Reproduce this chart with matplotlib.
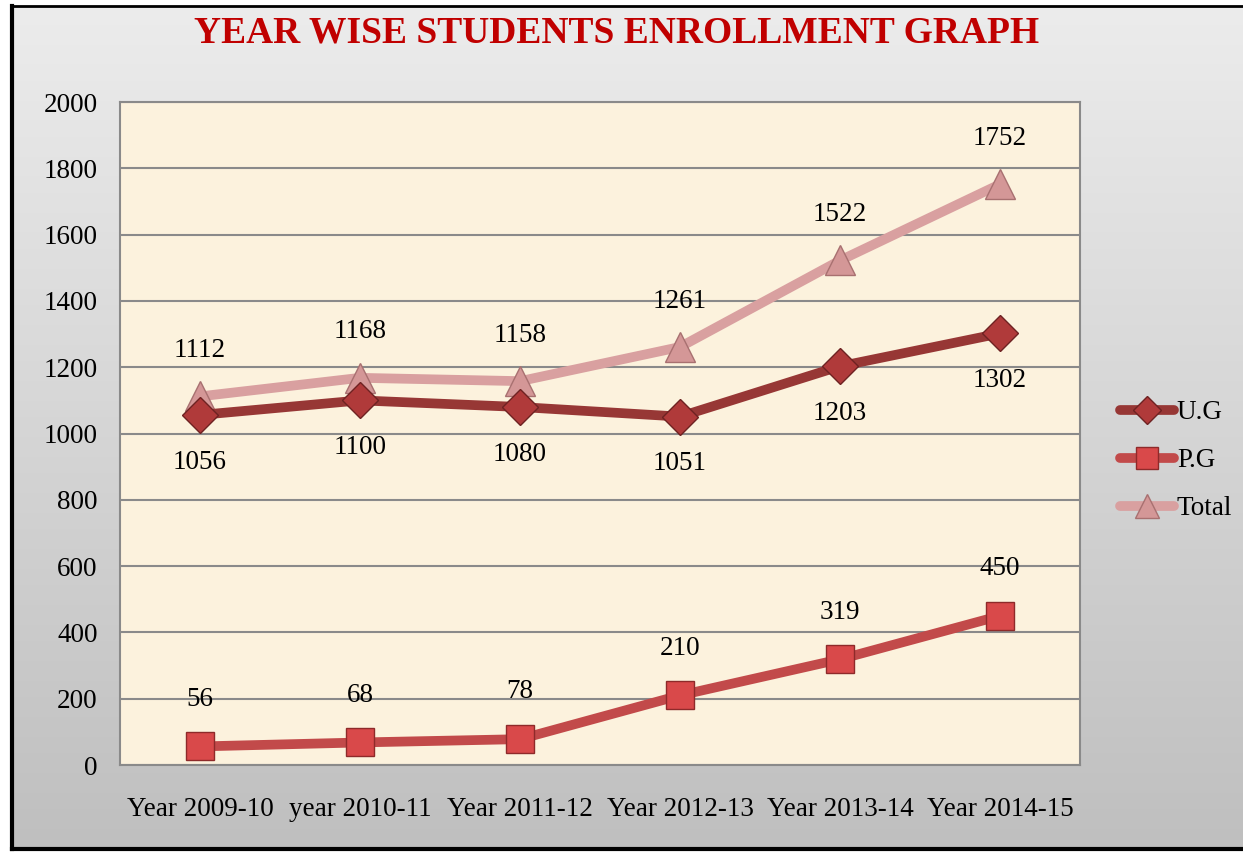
import numpy as np
import matplotlib
matplotlib.use("Agg")
from matplotlib import pyplot as plt

# data
years = ['Year 2009-10', 'year 2010-11', 'Year 2011-12', 'Year 2012-13', 'Year 2013-14', 'Year 2014-15']
ug = [1056, 1100, 1080, 1051, 1203, 1302]
pg = [56, 68, 78, 210, 319, 450]
total = [1112, 1168, 1158, 1261, 1522, 1752]
yticks = [0, 200, 400, 600, 800, 1000, 1200, 1400, 1600, 1800, 2000]

plt.rcParams['font.family'] = ['Liberation Serif', 'DejaVu Serif']
fs = 19.5

fig = plt.figure(figsize=(12.43, 8.56), dpi=100)
fig.patch.set_facecolor('white')

# grey gradient panel with black frame
bg = fig.add_axes([0.0097, 0.0082, 0.9903, 0.985])
grad = np.linspace(0, 1, 256).reshape(-1, 1)
cmap = matplotlib.colors.LinearSegmentedColormap.from_list('g', ['#ececec', '#bfbfbf'])
bg.imshow(grad, aspect='auto', cmap=cmap, extent=[0, 1, 0, 1], origin='upper')
bg.set_xlim(0, 1)
bg.set_ylim(0, 1)
bg.set_xticks([])
bg.set_yticks([])
for s in ['left', 'bottom']:
    bg.spines[s].set_linewidth(3)
    bg.spines[s].set_color('black')
bg.spines['top'].set_linewidth(2)
bg.spines['right'].set_visible(False)

ax = fig.add_axes([0.0965, 0.1063, 0.7724, 0.7745])
ax.set_facecolor('#fcf2dd')
x = np.arange(len(years))

ax.plot(x, total, color='#d9a0a0', lw=7, marker='^', ms=22, mfc='#d49797', mec='#a87070', mew=1,
        label='Total', zorder=3, solid_capstyle='round')
ax.plot(x, ug, color='#973735', lw=7, marker='D', ms=18, mfc='#b03a3a', mec='#6e2222', mew=1,
        label='U.G', zorder=4, solid_capstyle='round')
ax.plot(x, pg, color='#c24a4a', lw=7, marker='s', ms=20, mfc='#d9494a', mec='#8e2a2a', mew=1,
        label='P.G', zorder=4, solid_capstyle='round')

for xi, v in zip(x, total):
    ax.annotate(str(v), (xi, v), xytext=(0, 33), textcoords='offset points', ha='center', va='center', fontsize=fs)
for xi, v in zip(x, ug):
    ax.annotate(str(v), (xi, v), xytext=(0, -34), textcoords='offset points', ha='center', va='center', fontsize=fs)
for xi, v in zip(x, pg):
    ax.annotate(str(v), (xi, v), xytext=(0, 34), textcoords='offset points', ha='center', va='center', fontsize=fs)

ax.set_xlim(-0.5, len(years) - 0.5)
ax.set_ylim(0, 2000)
ax.set_yticks(yticks)
ax.set_yticklabels([str(t) for t in yticks], fontsize=fs)
ax.set_xticks(x)
ax.set_xticklabels(years, fontsize=fs)
ax.tick_params(axis='both', length=0)
ax.tick_params(axis='y', pad=16)
ax.tick_params(axis='x', pad=23)
ax.grid(axis='y', color='#8a8a8a', lw=1.5)
ax.set_axisbelow(True)
for s in ax.spines.values():
    s.set_color('#8a8a8a')
    s.set_linewidth(1.5)

handles, labels = ax.get_legend_handles_labels()
order = [1, 2, 0]
leg = fig.legend([handles[i] for i in order], [labels[i] for i in order], loc='center left',
                 bbox_to_anchor=(0.901, 0.462), frameon=False, fontsize=fs, handlelength=2.0,
                 handletextpad=0.1, labelspacing=0.85, borderpad=0, borderaxespad=0, markerscale=0.8)

fig.text(0.496, 0.961, 'YEAR WISE STUDENTS ENROLLMENT GRAPH', ha='center', va='center',
         fontsize=27, fontweight='bold', color='#c00000')

fig.savefig('out.png', dpi=100)
